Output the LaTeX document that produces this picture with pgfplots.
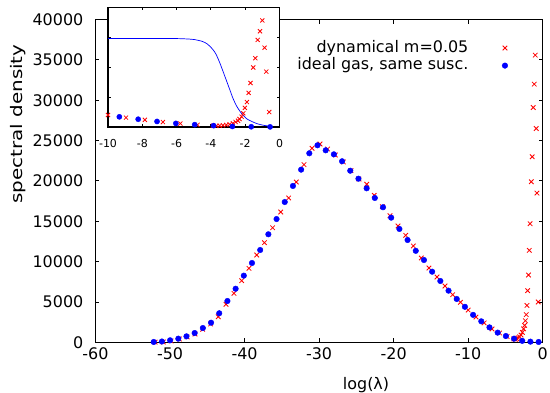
\documentclass[border=0pt]{standalone}
\usepackage{fontspec}
\setmainfont{DejaVu Sans}
\usepackage{graphicx}
\usepackage{pgfplots}
\usepackage{pgfplotstable}
\pgfplotsset{compat=1.18}

\pgfplotstableread{
x y
-52.0 20
-50.91 40
-49.85 160
-48.76 410
-47.70 660
-46.65 1030
-45.62 1610
-44.55 2270
-43.53 3170
-42.49 4710
-41.42 6070
-40.39 7640
-39.41 9170
-38.37 10820
-37.33 12350
-36.23 14200
-35.15 16150
-34.08 17890
-33.06 19870
-32.03 22020
-30.95 24050
-29.88 24580
-28.85 23960
-27.83 23220
-26.75 22350
-25.72 21270
-24.65 20240
-23.61 19590
-22.60 18220
-21.52 16810
-20.49 15690
-19.41 14420
-18.38 13260
-17.36 11940
-16.29 10450
-15.26 9210
-14.18 8090
-13.11 6980
-12.08 5900
-11.03 4960
-10.00 4000
-8.95 3130
-7.85 2400
-6.80 1650
-5.78 1150
-4.78 720
-3.88 420
-3.68 380
-3.49 440
-3.30 570
-3.10 680
-2.91 900
-2.72 1230
-2.56 1670
-2.42 2100
-2.33 2670
-2.21 3430
-2.11 4570
-2.02 6400
-1.90 8340
-1.80 11400
-1.69 14700
-1.53 19900
-1.41 23000
-1.27 29100
-1.14 32000
-1.00 35600
-0.87 26500
-0.77 18500
-0.60 5000
}\dyn

\pgfplotstableread{
x y
-0.549 40
-1.648 80
-2.746 180
-3.845 450
-4.944 780
-6.043 1200
-7.141 1850
-8.240 2600
-9.339 3400
-10.437 4400
-11.536 5370
-12.635 6400
-13.734 7600
-14.832 8750
-15.931 10200
-17.030 11340
-18.128 12680
-19.227 14050
-20.326 15450
-21.425 16740
-22.523 17890
-23.622 19090
-24.721 20280
-25.819 21270
-26.918 22440
-28.017 23300
-29.116 23800
-30.214 24420
-31.313 23430
-32.412 21400
-33.510 19380
-34.609 17390
-35.708 15280
-36.807 13390
-37.905 11440
-39.004 9830
-40.103 8260
-41.201 6640
-42.300 5120
-43.399 3600
-44.498 2430
-45.596 1770
-46.695 1150
-47.794 740
-48.892 450
-49.991 250
-51.090 100
-52.188 40
}\ideal

\pgfplotstableread{
x y
-10 29600
-8 29600
-7 29600
-6 29550
-5.5 29450
-5 29250
-4.5 28600
-4.2 27700
-3.9 26000
-3.7 24300
-3.5 21700
-3.3 18700
-3.1 15600
-2.9 12500
-2.7 9400
-2.5 7000
-2.3 5200
-2.1 3800
-1.9 2700
-1.6 1800
-1.3 1100
-1.0 650
-0.75 400
-0.55 300
}\susc

\begin{document}
\begin{tikzpicture}
\begin{axis}[name=main, scale only axis, width=447.2bp, height=322.7bp,
  at={(0,0)}, anchor=south west,
  xmin=-60, xmax=0, ymin=0, ymax=40000,
  xtick={-60,-50,...,0}, ytick={0,5000,...,40000},
  scaled y ticks=false, scaled x ticks=false,
  /pgf/number format/assume math mode=true,
  /pgf/number format/1000 sep={},
  tick align=inside, major tick length=4bp,
  tick style={black, line width=0.9bp},
  axis line style={line width=1.2bp},
  ticklabel style={font=\fontsize{16}{19}\selectfont},
  xticklabel style={anchor=base, yshift=-16.9bp, inner sep=0pt},
  yticklabel style={anchor=east, inner sep=0pt, xshift=-12bp},
  xlabel={log(λ)}, ylabel={\scalebox{1.25}[1]{spectral density}},
  xlabel style={at={(axis description cs:0.605,-0.146)}, anchor=base, font=\fontsize{16}{19}\selectfont},
  ylabel style={at={(axis description cs:-0.164,0.676)}, anchor=base, font=\fontsize{16}{19}\selectfont},
  clip=false,
  legend cell align=right, legend plot pos=right,
  legend style={draw=none, fill=none, at={(axis description cs:0.929,0.946)}, anchor=north east,
    font=\fontsize{16}{19}\selectfont, row sep=0pt, column sep=33bp,
    nodes={inner sep=0.8bp, text height=12bp, text depth=4bp}},
]
\addplot[only marks, mark=x, color=red, mark size=3.2bp, line width=0.8bp] table[x=x,y=y] {\dyn};
\addlegendentry{dynamical m=0.05}
\addplot[only marks, mark=*, color=blue, mark size=2.8bp] table[x=x,y=y] {\ideal};
\addlegendentry{ideal gas, same susc.}
\end{axis}

\begin{axis}[scale only axis, width=171.5bp, height=119.7bp,
  at={(12.5bp,215.3bp)}, anchor=south west,
  xmin=-10, xmax=0, ymin=0, ymax=40000,
  xtick={-10,-8,...,0}, ytick={0,10000,...,40000}, yticklabels={},
  scaled y ticks=false,
  /pgf/number format/assume math mode=true,
  axis background/.style={fill=white},
  tick align=inside, major tick length=3bp,
  tick style={black, line width=0.9bp},
  axis line style={line width=1.2bp},
  ticklabel style={font=\fontsize{11}{13}\selectfont},
  xticklabel style={anchor=base, yshift=-21bp, inner sep=0pt},
  clip=false,
]
\addplot[color=blue, line width=0.7bp, smooth] table[x=x,y=y] {\susc};
\addplot[only marks, mark=x, color=red, mark size=2.9bp, line width=0.8bp, restrict x to domain=-10.2:0] table[x=x,y=y] {\dyn};
\addplot[only marks, mark=*, color=blue, mark size=2.6bp, restrict x to domain=-10.2:0] table[x=x,y=y] {\ideal};
\end{axis}
\pgfresetboundingbox
\useasboundingbox (-95.5bp,-50.7bp) rectangle (454.5bp,342.3bp);
\end{tikzpicture}
\end{document}
